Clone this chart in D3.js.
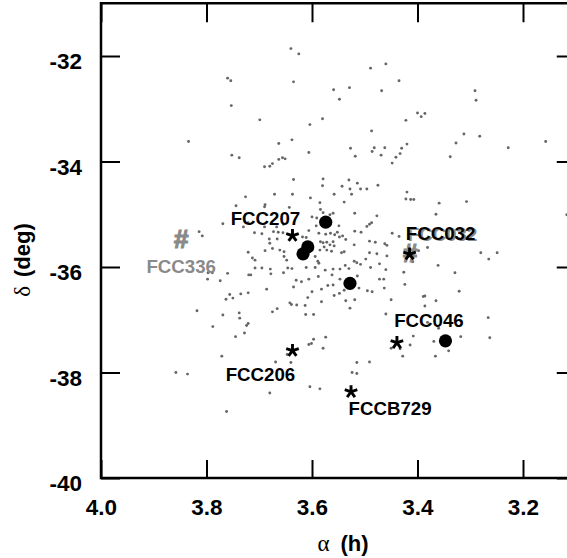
<!DOCTYPE html>
<html>
<head>
<meta charset="utf-8">
<script src="https://cdn.jsdelivr.net/npm/d3@7"></script>
<style>
  html, body { margin: 0; padding: 0; background: #fff; }
  svg { display: block; }
  text { font-family: "Liberation Sans", Arial, Helvetica, sans-serif; }
</style>
</head>
<body>
<svg id="chart" width="567" height="558"></svg>
<script>
// Field galaxies: right ascension (h) and declination (deg)
const fieldRa = [
  3.640,3.625,3.760,3.754,3.635,3.559,3.529,3.548,3.753,3.699,3.580,3.604,3.834,3.663,3.638,3.527,3.518,3.606,3.752,3.738,
  3.663,3.656,3.651,3.675,3.680,3.690,3.579,3.530,3.635,
  3.489,3.460,3.435,3.468,3.291,3.289,3.400,3.393,3.386,3.422,3.487,3.312,3.282,3.327,3.157,3.228,3.482,3.486,3.462,3.469,
  3.430,3.420,3.433,3.441,3.448,3.338,
  3.726,3.671,3.689,3.690,3.744,3.769,3.721,3.730,3.690,3.667,3.814,3.808,3.709,3.695,3.673,3.664,3.681,3.666,3.680,3.675,
  3.689,3.661,3.721,3.713,3.708,3.708,3.695,3.679,3.797,3.789,3.760,3.720,3.716,3.678,3.798,3.774,3.686,3.756,3.750,3.763,
  3.735,3.721,3.818,3.769,3.738,3.737,3.675,3.666,3.788,3.721,3.724,3.728,3.745,
  3.580,3.543,3.528,3.514,3.508,3.496,3.475,3.637,3.603,3.558,3.525,3.585,3.539,3.584,3.579,3.566,3.560,3.519,3.600,3.591,
  3.477,3.487,3.491,3.496,3.549,3.606,3.592,3.587,3.574,3.565,3.557,3.552,3.548,3.542,3.536,3.519,3.507,3.655,3.618,3.611,
  3.584,3.579,3.572,3.566,3.577,3.560,3.558,3.585,3.572,3.563,3.544,3.539,3.520,3.491,3.480,3.491,3.477,3.653,3.653,3.648,
  3.646,3.638,3.594,3.589,3.587,3.611,3.594,3.575,3.560,3.547,3.537,3.530,3.520,3.515,3.508,3.498,3.489,3.472,3.654,3.588,
  3.562,3.547,3.630,3.606,3.620,3.514,3.472,3.570,3.560,3.582,3.511,3.635,3.643,3.654,
  3.420,3.422,3.413,3.407,3.359,3.307,3.365,3.448,3.435,3.462,3.458,3.381,3.398,3.458,3.409,3.280,3.265,3.249,3.361,3.460,
  3.426,3.329,3.464,3.463,3.424,3.321,3.389,3.386,3.365,3.450,3.386,3.460,3.266,3.381,3.360,3.408,3.369,3.318,3.263,3.414,
  3.433,3.450,3.428,3.341,3.366,3.117,
  3.548,3.558,3.495,3.486,3.642,3.639,3.629,3.613,3.608,3.582,3.536,3.519,3.528,3.612,3.597,3.574,3.539,3.600,3.597,
  3.771,3.669,3.858,3.836,3.680,3.762,3.647,3.640,3.604,3.585,3.515,3.491,3.524,3.515,3.606,3.601,3.579
];
const fieldDec = [
  -31.86,-31.96,-32.42,-32.47,-32.49,-32.64,-32.60,-32.82,-32.94,-33.21,-33.19,-33.30,-33.62,-33.66,-33.59,-33.75,-33.90,-33.83,-33.88,-33.93,
  -33.96,-33.93,-33.95,-34.04,-34.09,-34.10,-34.33,-34.35,-34.34,
  -32.23,-32.15,-32.47,-32.66,-32.66,-32.84,-33.08,-33.15,-33.09,-33.22,-33.42,-33.48,-33.52,-33.65,-33.62,-33.74,-33.74,-33.81,-33.74,-33.88,
  -33.75,-33.67,-33.85,-33.92,-34.03,-33.91,
  -34.67,-34.62,-34.82,-34.86,-34.84,-35.18,-35.16,-35.24,-35.24,-35.24,-35.33,-35.41,-35.35,-35.37,-35.33,-35.34,-35.47,-35.47,-35.55,-35.65,
  -35.69,-35.68,-35.72,-35.83,-35.87,-36.02,-36.02,-36.04,-36.11,-36.11,-36.12,-36.15,-36.15,-36.13,-36.23,-36.26,-36.42,-36.52,-36.59,-36.61,
  -36.51,-36.49,-36.83,-36.91,-36.87,-36.97,-36.85,-36.79,-37.13,-37.07,-37.11,-37.25,-37.32,
  -34.46,-34.47,-34.52,-34.41,-34.52,-34.52,-34.45,-34.62,-34.69,-34.62,-34.62,-34.78,-34.77,-34.91,-34.97,-35.01,-34.98,-34.98,-35.05,-35.07,
  -35.03,-35.16,-35.19,-35.23,-35.22,-35.31,-35.22,-35.36,-35.38,-35.36,-35.39,-35.34,-35.43,-35.41,-35.48,-35.32,-35.34,-35.35,-35.43,-35.44,
  -35.52,-35.54,-35.53,-35.58,-35.62,-35.52,-35.60,-35.68,-35.68,-35.70,-35.73,-35.71,-35.58,-35.51,-35.53,-35.73,-35.75,-35.71,-35.80,-35.87,
  -36.02,-36.03,-35.80,-35.89,-35.93,-36.01,-36.01,-36.06,-36.04,-36.04,-35.97,-36.03,-35.89,-35.92,-35.95,-35.85,-36.01,-35.94,-36.11,-36.18,
  -36.15,-36.23,-36.25,-36.23,-36.28,-36.17,-36.23,-36.35,-36.34,-36.42,-36.40,-36.38,-34.87,-35.19,
  -34.58,-34.71,-34.72,-34.72,-34.79,-34.76,-35.00,-35.36,-35.42,-35.56,-35.59,-35.63,-35.69,-35.79,-35.90,-35.73,-35.85,-35.73,-35.97,-36.05,
  -36.10,-36.11,-36.23,-36.40,-36.33,-36.46,-36.56,-36.55,-36.64,-36.62,-36.74,-36.89,-36.96,-37.05,-37.16,-37.31,-37.41,-37.32,-37.34,-37.48,
  -37.55,-37.54,-37.69,-37.59,-37.69,-35.01,
  -36.50,-36.54,-36.45,-36.47,-36.68,-36.71,-36.72,-36.73,-36.58,-36.66,-36.64,-36.62,-36.78,-36.90,-36.90,-37.33,-36.44,-36.47,-37.37,
  -37.69,-37.80,-38.00,-38.03,-38.39,-38.74,-37.66,-37.81,-38.27,-38.31,-37.81,-37.80,-38.00,-38.02,-37.47,-37.45,-37.54
];

// Bright galaxies (large filled circles)
const brightRa  = [3.574, 3.608, 3.617, 3.528, 3.347];
const brightDec = [-35.15, -35.62, -35.75, -36.31, -37.40];

// Named objects marked with an asterisk
const starNames = ["FCC207", "FCC206", "FCCB729", "FCC046", "FCC032"];
const starRa    = [3.637, 3.637, 3.526, 3.439, 3.415];
const starDec   = [-35.39, -37.57, -38.35, -37.42, -35.74];

// Named objects marked with a grey hash
const hashNames = ["FCC336", "FCC032"];
const hashRa    = [3.848, 3.414];
const hashDec   = [-35.46, -35.73];

// Axis ticks
const xTicks = [4.0, 3.8, 3.6, 3.4, 3.2];
const yTicks = [-40, -38, -36, -34, -32];

// ---- layout ----
const svg = d3.select("#chart");
const plotLeft = 101, plotRight = 575.75, plotBottom = 478;
const x = d3.scaleLinear().domain([4.0, 3.1]).range([plotLeft, plotRight]);
const y = d3.scaleLinear().domain([-40, -31]).range([plotBottom, plotBottom - 9 * 52.75]);
const plotTop = y(-31);

// label placement (pixel offsets from the marker)
const starLabelOffset = {
  FCC207: [-27, -10], FCC206: [-32, 31], FCCB729: [39, 24], FCC046: [32, -15], FCC032: [31, -13]
};
const hashLabelOffset = { FCC336: [0, 34], FCC032: [32.5, -11.7] };

const tickFont = "22.5px";
const labelFont = "18.7px";

// axes
function styleAxis(g) {
  g.select(".domain").remove();
  g.selectAll(".tick line").attr("stroke", "#000").attr("stroke-width", 2);
  g.selectAll(".tick text")
    .attr("fill", "#000")
    .style("font-size", tickFont)
    .style("font-weight", "bold")
    .style("font-family", '"Liberation Sans", Arial, sans-serif');
}

svg.append("g").attr("transform", `translate(0,${plotBottom})`)
  .call(d3.axisBottom(x).tickValues(xTicks).tickSizeInner(-18).tickSizeOuter(0)
        .tickPadding(21).tickFormat(d3.format(".1f")))
  .call(styleAxis);

svg.append("g").attr("transform", `translate(0,${plotTop})`)
  .call(d3.axisTop(x).tickValues(xTicks).tickSizeInner(-19).tickSizeOuter(0).tickFormat(""))
  .call(styleAxis);

svg.append("g").attr("transform", `translate(${plotLeft},0)`)
  .call(d3.axisLeft(y).tickValues(yTicks).tickSizeInner(-19).tickSizeOuter(0)
        .tickPadding(19).tickFormat(d => String(d)))
  .call(styleAxis)
  .call(g => g.selectAll(".tick text").attr("dy", "0.56em"));

svg.append("g").attr("transform", `translate(${plotRight},0)`)
  .call(d3.axisRight(y).tickValues(yTicks).tickSizeInner(-19).tickSizeOuter(0).tickFormat(""))
  .call(styleAxis);

// frame
svg.append("rect")
  .attr("x", plotLeft).attr("y", plotTop)
  .attr("width", plotRight - plotLeft).attr("height", plotBottom - plotTop)
  .attr("fill", "none").attr("stroke", "#000").attr("stroke-width", 2.5);

// axis titles
const xt = svg.append("text")
  .attr("x", 343).attr("y", 551)
  .attr("text-anchor", "middle")
  .style("font-size", "22px");
xt.append("tspan").style("font-family", '"Liberation Serif", "DejaVu Serif", serif')
  .style("font-size", "23px").text("α");
xt.append("tspan").attr("dx", 11).style("font-weight", "bold").text("(h)");

const yt = svg.append("text")
  .attr("transform", "translate(30,260) rotate(-90)")
  .attr("text-anchor", "middle")
  .style("font-size", "22px");
yt.append("tspan").style("font-family", '"Liberation Serif", "DejaVu Serif", serif')
  .style("font-size", "23px").text("δ");
yt.append("tspan").attr("dx", 9).style("font-weight", "bold").text("(deg)");

// field galaxies
svg.append("g").selectAll("circle")
  .data(d3.range(fieldRa.length))
  .join("circle")
  .attr("cx", i => x(fieldRa[i]))
  .attr("cy", i => y(fieldDec[i]))
  .attr("r", 1.45)
  .attr("fill", "#666");

// bright galaxies
svg.append("g").selectAll("circle")
  .data(d3.range(brightRa.length))
  .join("circle")
  .attr("cx", i => x(brightRa[i]))
  .attr("cy", i => y(brightDec[i]))
  .attr("r", 6.6)
  .attr("fill", "#000");

// grey hash markers and their labels
const grey = "#8a8a8a";
const hashG = svg.append("g");
hashNames.forEach((name, i) => {
  const px = x(hashRa[i]), py = y(hashDec[i]);
  hashG.append("text")
    .attr("x", px).attr("y", py).attr("dy", "0.36em")
    .attr("text-anchor", "middle")
    .attr("fill", grey)
    .attr("stroke", grey).attr("stroke-width", 1.2)
    .style("font-size", "26px").style("font-weight", "bold")
    .text("#");
  const off = hashLabelOffset[name];
  hashG.append("text")
    .attr("x", px + off[0]).attr("y", py + off[1])
    .attr("text-anchor", "middle")
    .attr("fill", grey)
    .style("font-size", labelFont).style("font-weight", "bold")
    .text(name);
});

// five-armed asterisk
function asteriskPath(L) {
  let d = "";
  for (let k = 0; k < 5; k++) {
    const a = -Math.PI / 2 + k * 2 * Math.PI / 5;
    d += `M0,0L${(L * Math.cos(a)).toFixed(2)},${(L * Math.sin(a)).toFixed(2)}`;
  }
  return d;
}

const starG = svg.append("g");
starNames.forEach((name, i) => {
  const px = x(starRa[i]), py = y(starDec[i]);
  starG.append("path")
    .attr("d", asteriskPath(6.6))
    .attr("transform", `translate(${px},${py + 0.8})`)
    .attr("fill", "none").attr("stroke", "#000")
    .attr("stroke-width", 2.9);
  const off = starLabelOffset[name];
  starG.append("text")
    .attr("x", px + off[0]).attr("y", py + off[1])
    .attr("text-anchor", "middle")
    .attr("fill", "#000")
    .style("font-size", labelFont).style("font-weight", "bold")
    .text(name);
});
</script>
</body>
</html>
